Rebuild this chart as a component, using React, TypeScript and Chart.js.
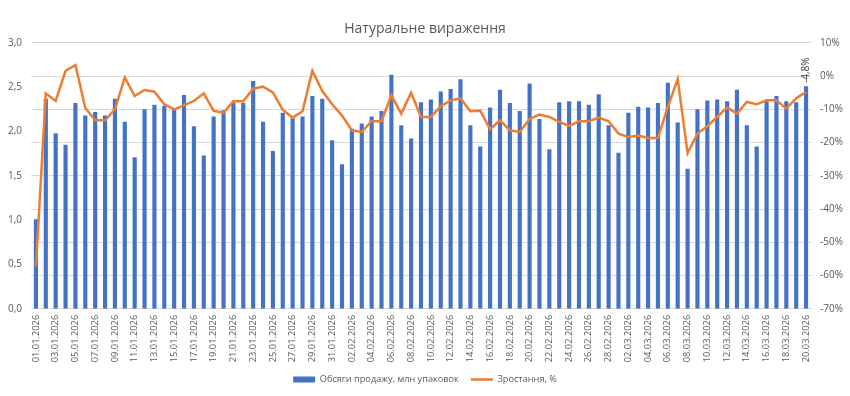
import React, { useEffect, useRef } from "react";
import { Chart, registerables } from "chart.js";

Chart.register(...registerables);

const dates = [
  "01.01.2026", "02.01.2026", "03.01.2026", "04.01.2026", "05.01.2026", "06.01.2026", "07.01.2026", "08.01.2026", "09.01.2026", "10.01.2026",
  "11.01.2026", "12.01.2026", "13.01.2026", "14.01.2026", "15.01.2026", "16.01.2026", "17.01.2026", "18.01.2026", "19.01.2026", "20.01.2026",
  "21.01.2026", "22.01.2026", "23.01.2026", "24.01.2026", "25.01.2026", "26.01.2026", "27.01.2026", "28.01.2026", "29.01.2026", "30.01.2026",
  "31.01.2026", "01.02.2026", "02.02.2026", "03.02.2026", "04.02.2026", "05.02.2026", "06.02.2026", "07.02.2026", "08.02.2026", "09.02.2026",
  "10.02.2026", "11.02.2026", "12.02.2026", "13.02.2026", "14.02.2026", "15.02.2026", "16.02.2026", "17.02.2026", "18.02.2026", "19.02.2026",
  "20.02.2026", "21.02.2026", "22.02.2026", "23.02.2026", "24.02.2026", "25.02.2026", "26.02.2026", "27.02.2026", "28.02.2026", "01.03.2026",
  "02.03.2026", "03.03.2026", "04.03.2026", "05.03.2026", "06.03.2026", "07.03.2026", "08.03.2026", "09.03.2026", "10.03.2026", "11.03.2026",
  "12.03.2026", "13.03.2026", "14.03.2026", "15.03.2026", "16.03.2026", "17.03.2026", "18.03.2026", "19.03.2026", "20.03.2026",
];

const sales = [
  1.01, 2.37, 1.98, 1.85, 2.32, 2.18, 2.22, 2.18, 2.37, 2.11,
  1.71, 2.25, 2.30, 2.29, 2.26, 2.41, 2.06, 1.73, 2.17, 2.24,
  2.32, 2.32, 2.57, 2.11, 1.78, 2.21, 2.15, 2.17, 2.40, 2.37,
  1.90, 1.63, 2.03, 2.09, 2.17, 2.23, 2.64, 2.07, 1.92, 2.33,
  2.36, 2.45, 2.48, 2.59, 2.07, 1.83, 2.27, 2.47, 2.32, 2.23,
  2.54, 2.14, 1.80, 2.33, 2.34, 2.34, 2.30, 2.42, 2.07, 1.76,
  2.21, 2.28, 2.27, 2.32, 2.55, 2.10, 1.58, 2.25, 2.35, 2.36,
  2.34, 2.47, 2.07, 1.83, 2.34, 2.40, 2.34, 2.33, 2.51,
];

const growth = [
  -57.3, -5.2, -7.5, 1.6, 3.3, -9.6, -13.3, -13.3, -10.0, -0.4,
  -6.0, -4.2, -4.7, -8.5, -10.0, -8.8, -7.5, -5.2, -10.5, -11.0,
  -7.6, -7.6, -3.8, -3.2, -4.9, -10.2, -12.5, -10.6, 1.6, -4.5,
  -8.5, -11.9, -16.3, -16.8, -13.6, -13.6, -5.8, -11.3, -5.0, -12.3,
  -12.3, -9.1, -7.3, -6.7, -10.6, -10.4, -16.0, -13.3, -16.3, -16.8,
  -12.9, -11.6, -12.3, -13.8, -15.0, -13.6, -13.6, -12.5, -13.6, -17.3,
  -18.3, -17.9, -18.6, -18.6, -9.3, -0.9, -23.2, -17.3, -15.1, -12.3,
  -9.5, -11.3, -7.8, -8.5, -7.3, -7.3, -9.8, -6.7, -4.8,
];

const title = "Натуральне вираження";
const salesLabel = "Обсяги продажу, млн упаковок";
const growthLabel = "Зростання, %";

const FONT = '"Open Sans", sans-serif';
const GREY = "#595959";
const BLUE = "#4472C4";
const ORANGE = "#ED7D31";

const lastLabelPlugin = {
  id: "lastLabel",
  afterDatasetsDraw(chart: any) {
    const meta = chart.getDatasetMeta(1);
    const pt = meta.data[meta.data.length - 1];
    if (!pt) return;
    const v = growth[growth.length - 1];
    const ctx = chart.ctx;
    ctx.save();
    ctx.translate(pt.x, pt.y - 9);
    ctx.rotate(-Math.PI / 2);
    ctx.font = `10px ${FONT}`;
    ctx.fillStyle = "#404040";
    ctx.textAlign = "left";
    ctx.textBaseline = "middle";
    ctx.fillText(v.toFixed(1).replace(".", ",") + "%", 0, 0);
    ctx.restore();
  },
};

const bgPlugin = {
  id: "bg",
  beforeDraw(chart: any) {
    const ctx = chart.ctx;
    ctx.save();
    ctx.fillStyle = "#ffffff";
    ctx.fillRect(0, 0, chart.width, chart.height);
    ctx.restore();
  },
};

export default function App() {
  const ref = useRef<HTMLCanvasElement | null>(null);

  useEffect(() => {
    if (!ref.current) return;
    const chart = new Chart(ref.current, {
      type: "bar",
      data: {
        labels: dates,
        datasets: [
          {
            type: "bar",
            label: salesLabel,
            data: sales,
            backgroundColor: BLUE,
            borderWidth: 0,
            barPercentage: 0.42,
            categoryPercentage: 1,
            yAxisID: "y",
            order: 1,
            pointStyle: "rect",
          } as any,
          {
            type: "line",
            label: growthLabel,
            data: growth,
            borderColor: ORANGE,
            backgroundColor: ORANGE,
            borderWidth: 2.5,
            pointRadius: 0,
            tension: 0,
            yAxisID: "y1",
            order: 0,
            pointStyle: "line",
          } as any,
        ],
      },
      options: {
        responsive: false,
        animation: false,
        layout: { padding: { left: 0, right: 0, top: 0, bottom: 2 } },
        plugins: {
          title: {
            display: true,
            text: title,
            color: GREY,
            font: { family: FONT, size: 14, weight: "normal" },
            padding: { top: 21, bottom: 5 },
          },
          legend: {
            position: "bottom",
            labels: {
              usePointStyle: true,
              pointStyleWidth: 22,
              boxHeight: 6,
              color: GREY,
              font: { family: FONT, size: 9.2 },
              padding: 12,
              sort: (a: any, b: any) => a.datasetIndex - b.datasetIndex,
            },
          },
          tooltip: { enabled: false },
        },
        scales: {
          x: {
            grid: { display: false, drawTicks: false },
            border: { display: true, color: "#d9d9d9" },
            ticks: {
              autoSkip: false,
              maxRotation: 90,
              minRotation: 90,
              padding: 6,
              color: GREY,
              font: { family: FONT, size: 9.3 },
              callback: (_v: any, i: number) => (i % 2 === 0 ? dates[i] : ""),
            },
            afterFit: (s: any) => {
              s.height = 54;
            },
          },
          y: {
            position: "left",
            min: 0,
            max: 3,
            grid: { display: false, drawTicks: false },
            border: { display: false },
            ticks: {
              stepSize: 0.5,
              padding: 9,
              color: GREY,
              font: { family: FONT, size: 10 },
              callback: (v: any) => Number(v).toFixed(1).replace(".", ","),
            },
            afterFit: (s: any) => {
              s.width = 31;
            },
          },
          y1: {
            position: "right",
            min: -70,
            max: 10,
            grid: { display: true, color: "#d9d9d9", drawTicks: false },
            border: { display: false },
            ticks: {
              stepSize: 10,
              padding: 9,
              color: GREY,
              font: { family: FONT, size: 10 },
              callback: (v: any) => `${v}%`,
            },
            afterFit: (s: any) => {
              s.width = 39;
            },
          },
        },
      } as any,
      plugins: [bgPlugin, lastLabelPlugin],
    });
    return () => chart.destroy();
  }, []);

  return (
    <canvas
      ref={ref}
      width={850}
      height={396}
      style={{ position: "fixed", left: 0, top: 0, display: "block" }}
    />
  );
}
